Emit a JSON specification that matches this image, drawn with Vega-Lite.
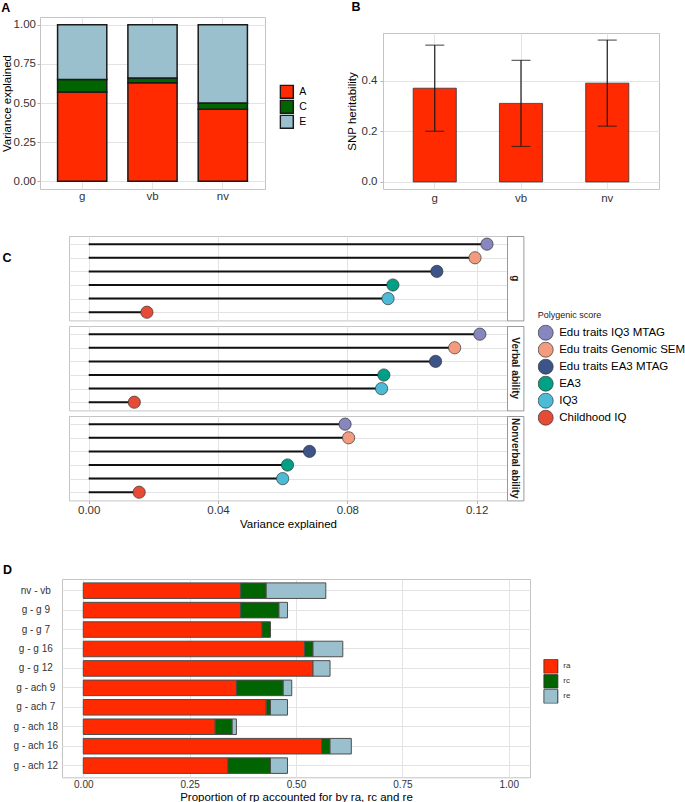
{
  "$schema": "https://vega.github.io/schema/vega-lite/v6.json",
  "padding": {"left": 0, "top": 0, "right": 0, "bottom": 0},
  "background": "white",
  "bounds": "flush",
  "spacing": 0,
  "resolve": {"scale": {"fill": "independent"}},
  "vconcat": [
    {
      "hconcat": [
        {
          "width": 225, "height": 172,
          "title": {"text": "A", "dx": -38.8},
          "data": {"values": [
            {"cat": "g", "comp": "A", "val": 0.57, "ord": 1},
            {"cat": "g", "comp": "C", "val": 0.08, "ord": 2},
            {"cat": "g", "comp": "E", "val": 0.35, "ord": 3},
            {"cat": "vb", "comp": "A", "val": 0.63, "ord": 1},
            {"cat": "vb", "comp": "C", "val": 0.03, "ord": 2},
            {"cat": "vb", "comp": "E", "val": 0.34, "ord": 3},
            {"cat": "nv", "comp": "A", "val": 0.46, "ord": 1},
            {"cat": "nv", "comp": "C", "val": 0.04, "ord": 2},
            {"cat": "nv", "comp": "E", "val": 0.50, "ord": 3}
          ]},
          "mark": {"type": "bar", "stroke": "#1a1a1a", "strokeWidth": 1.5},
          "encoding": {
            "x": {"field": "cat", "type": "nominal", "sort": ["g", "vb", "nv"],
                  "scale": {"paddingInner": 0.3, "paddingOuter": 0.25},
                  "axis": {"title": null, "labelAngle": 0, "grid": true, "ticks": false, "tickSize": 0, "labelPadding": 1}},
            "y": {"field": "val", "type": "quantitative", "stack": "zero",
                  "scale": {"domain": [-0.05, 1.05], "nice": false, "zero": false},
                  "axis": {"values": [0, 0.25, 0.5, 0.75, 1], "format": ".2f", "title": "Variance explained", "titlePadding": 1}},
            "fill": {"field": "comp", "type": "nominal",
                     "scale": {"domain": ["A", "C", "E"], "range": ["#FF2A00", "#006400", "#9AC0CD"]},
                     "legend": {"orient": "none", "legendX": 239.3, "legendY": 67.5, "title": null, "symbolType": "square", "symbolSize": 169, "symbolStrokeColor": "#1a1a1a", "symbolStrokeWidth": 1.5, "labelFontSize": 10.5, "labelOffset": 5, "rowPadding": 0, "clipHeight": 14.5}},
            "order": {"field": "ord", "type": "quantitative"}
          }
        },
        {"width": 118, "height": 1, "data": {"values": []}, "mark": "point", "view": {"stroke": null}},
        {
          "vconcat": [
            {"width": 1, "height": 16, "data": {"values": []}, "mark": "point", "view": {"stroke": null}},
            {
              "width": 276, "height": 156,
              "title": {"text": "B", "dx": -31.5, "offset": 19.5},
              "data": {"values": [
                {"cat": "g", "h2": 0.37, "lo": 0.20, "hi": 0.54},
                {"cat": "vb", "h2": 0.31, "lo": 0.14, "hi": 0.48},
                {"cat": "nv", "h2": 0.39, "lo": 0.22, "hi": 0.56}
              ]},
              "encoding": {
                "x": {"field": "cat", "type": "nominal", "sort": ["g", "vb", "nv"],
                      "scale": {"paddingInner": 0.5, "paddingOuter": 0.35},
                      "axis": {"title": null, "labelAngle": 0, "grid": true, "ticks": false, "tickSize": 0, "labelPadding": 3}}
              },
              "layer": [
                {"mark": {"type": "bar", "fill": "#FF2A00", "stroke": "#333333", "strokeWidth": 0.8},
                 "encoding": {"y": {"field": "h2", "type": "quantitative",
                                    "scale": {"domain": [-0.028, 0.588], "nice": false, "zero": false},
                                    "axis": {"values": [0, 0.2, 0.4], "format": ".1f", "title": "SNP heritability", "titlePadding": 3.5, "labelPadding": 3}}}},
                {"mark": {"type": "rule", "color": "#1a1a1a", "strokeWidth": 1.2},
                 "encoding": {"y": {"field": "lo", "type": "quantitative"}, "y2": {"field": "hi"}}},
                {"mark": {"type": "tick", "color": "#1a1a1a", "thickness": 1.2, "size": 19, "orient": "horizontal"},
                 "encoding": {"y": {"field": "lo", "type": "quantitative"}}},
                {"mark": {"type": "tick", "color": "#1a1a1a", "thickness": 1.2, "size": 19, "orient": "horizontal"},
                 "encoding": {"y": {"field": "hi", "type": "quantitative"}}}
              ]
            }
          ],
          "spacing": 0,
          "bounds": "flush"
        }
      ],
      "spacing": 0,
      "bounds": "flush",
      "resolve": {"scale": {"fill": "independent"}}
    },
    {"width": 1, "height": 218.3, "data": {"values": []}, "mark": "point", "view": {"stroke": null}},
    {
      "concat": [
        {"width": 29, "height": 1, "data": {"values": []}, "mark": "point", "view": {"stroke": null}},
        {
          "width": 438, "height": 84.4,
          "title": {"text": "C", "dx": -66.5, "dy": 31.2},
          "data": {"values": [
            {"pgs": "Edu traits IQ3 MTAG", "ve": 0.1232},
            {"pgs": "Edu traits Genomic SEM", "ve": 0.1195},
            {"pgs": "Edu traits EA3 MTAG", "ve": 0.1077},
            {"pgs": "EA3", "ve": 0.0941},
            {"pgs": "IQ3", "ve": 0.0926},
            {"pgs": "Childhood IQ", "ve": 0.0180}
          ]},
          "encoding": {
            "y": {"field": "pgs", "type": "nominal",
                  "sort": ["Edu traits IQ3 MTAG", "Edu traits Genomic SEM", "Edu traits EA3 MTAG", "EA3", "IQ3", "Childhood IQ"],
                  "scale": {"type": "point", "padding": 0.6},
                  "axis": {"title": null, "labels": false, "ticks": false, "tickSize": 0, "grid": true}}
          },
          "layer": [
            {"mark": {"type": "rule", "color": "#111111", "strokeWidth": 2},
             "encoding": {"x": {"field": "ve", "type": "quantitative",
                                "scale": {"domain": [-0.0061, 0.1294], "nice": false, "zero": false},
                                "axis": {"values": [0, 0.04, 0.08, 0.12], "labels": false, "ticks": false, "tickSize": 0, "title": null, "grid": true}},
                          "x2": {"datum": 0}}},
            {"mark": {"type": "circle", "size": 150, "opacity": 1, "stroke": "#333333", "strokeWidth": 0.7},
             "encoding": {"x": {"field": "ve", "type": "quantitative"},
                          "fill": {"field": "pgs", "type": "nominal",
                                   "scale": {"domain": ["Edu traits IQ3 MTAG", "Edu traits Genomic SEM", "Edu traits EA3 MTAG", "EA3", "IQ3", "Childhood IQ"],
                                             "range": ["#8886BE", "#F39B7F", "#3C5488", "#00A087", "#4DBBD5", "#E64B35"]},
                                   "legend": {"orient": "none", "legendX": 497.7, "legendY": 74.8, "title": "Polygenic score", "titleFontSize": 9, "titleFontWeight": "normal", "titleColor": "#222222", "titlePadding": 4.7, "labelFontSize": 11.5, "labelColor": "#000000", "symbolType": "circle", "symbolSize": 225, "symbolOpacity": 1, "symbolStrokeColor": "#333333", "symbolStrokeWidth": 0.7, "rowPadding": 0, "clipHeight": 16.4, "labelOffset": 5.5}}}}
          ]
        },
        {"width": 16.4, "height": 84.4, "data": {"values": [{"lab": "g"}]},
         "mark": {"type": "text", "angle": 90, "fontWeight": "bold", "fontSize": 10, "color": "#1a1a1a"},
         "encoding": {"text": {"field": "lab", "type": "nominal"}}, "view": {"stroke": "#999999"}},

        {"width": 29, "height": 1, "data": {"values": []}, "mark": "point", "view": {"stroke": null}},
        {
          "width": 438, "height": 84.4,
          "data": {"values": [
            {"pgs": "Edu traits IQ3 MTAG", "ve": 0.1210},
            {"pgs": "Edu traits Genomic SEM", "ve": 0.1132},
            {"pgs": "Edu traits EA3 MTAG", "ve": 0.1073},
            {"pgs": "EA3", "ve": 0.0913},
            {"pgs": "IQ3", "ve": 0.0906},
            {"pgs": "Childhood IQ", "ve": 0.0141}
          ]},
          "encoding": {
            "y": {"field": "pgs", "type": "nominal",
                  "sort": ["Edu traits IQ3 MTAG", "Edu traits Genomic SEM", "Edu traits EA3 MTAG", "EA3", "IQ3", "Childhood IQ"],
                  "scale": {"type": "point", "padding": 0.6},
                  "axis": {"title": null, "labels": false, "ticks": false, "tickSize": 0, "grid": true}}
          },
          "layer": [
            {"mark": {"type": "rule", "color": "#111111", "strokeWidth": 2},
             "encoding": {"x": {"field": "ve", "type": "quantitative",
                                "scale": {"domain": [-0.0061, 0.1294], "nice": false, "zero": false},
                                "axis": {"values": [0, 0.04, 0.08, 0.12], "labels": false, "ticks": false, "tickSize": 0, "title": null, "grid": true}},
                          "x2": {"datum": 0}}},
            {"mark": {"type": "circle", "size": 150, "opacity": 1, "stroke": "#333333", "strokeWidth": 0.7},
             "encoding": {"x": {"field": "ve", "type": "quantitative"},
                          "fill": {"field": "pgs", "type": "nominal",
                                   "scale": {"domain": ["Edu traits IQ3 MTAG", "Edu traits Genomic SEM", "Edu traits EA3 MTAG", "EA3", "IQ3", "Childhood IQ"],
                                             "range": ["#8886BE", "#F39B7F", "#3C5488", "#00A087", "#4DBBD5", "#E64B35"]},
                                   "legend": {"orient": "none", "legendX": 497.7, "legendY": 74.8, "title": "Polygenic score", "titleFontSize": 9, "titleFontWeight": "normal", "titleColor": "#222222", "titlePadding": 4.7, "labelFontSize": 11.5, "labelColor": "#000000", "symbolType": "circle", "symbolSize": 225, "symbolOpacity": 1, "symbolStrokeColor": "#333333", "symbolStrokeWidth": 0.7, "rowPadding": 0, "clipHeight": 16.4, "labelOffset": 5.5}}}}
          ]
        },
        {"width": 16.4, "height": 84.4, "data": {"values": [{"lab": "Verbal ability"}]},
         "mark": {"type": "text", "angle": 90, "fontWeight": "bold", "fontSize": 10, "color": "#1a1a1a"},
         "encoding": {"text": {"field": "lab", "type": "nominal"}}, "view": {"stroke": "#999999"}},

        {"width": 29, "height": 1, "data": {"values": []}, "mark": "point", "view": {"stroke": null}},
        {
          "width": 438, "height": 84.4,
          "data": {"values": [
            {"pgs": "Edu traits IQ3 MTAG", "ve": 0.0793},
            {"pgs": "Edu traits Genomic SEM", "ve": 0.0804},
            {"pgs": "Edu traits EA3 MTAG", "ve": 0.0683},
            {"pgs": "EA3", "ve": 0.0615},
            {"pgs": "IQ3", "ve": 0.0600},
            {"pgs": "Childhood IQ", "ve": 0.0156}
          ]},
          "encoding": {
            "y": {"field": "pgs", "type": "nominal",
                  "sort": ["Edu traits IQ3 MTAG", "Edu traits Genomic SEM", "Edu traits EA3 MTAG", "EA3", "IQ3", "Childhood IQ"],
                  "scale": {"type": "point", "padding": 0.6},
                  "axis": {"title": null, "labels": false, "ticks": false, "tickSize": 0, "grid": true}}
          },
          "layer": [
            {"mark": {"type": "rule", "color": "#111111", "strokeWidth": 2},
             "encoding": {"x": {"field": "ve", "type": "quantitative",
                                "scale": {"domain": [-0.0061, 0.1294], "nice": false, "zero": false},
                                "axis": {"values": [0, 0.04, 0.08, 0.12], "format": ".2f", "title": "Variance explained", "grid": true, "tickSize": 3, "labelPadding": 1, "titlePadding": 2.5}},
                          "x2": {"datum": 0}}},
            {"mark": {"type": "circle", "size": 150, "opacity": 1, "stroke": "#333333", "strokeWidth": 0.7},
             "encoding": {"x": {"field": "ve", "type": "quantitative"},
                          "fill": {"field": "pgs", "type": "nominal",
                                   "scale": {"domain": ["Edu traits IQ3 MTAG", "Edu traits Genomic SEM", "Edu traits EA3 MTAG", "EA3", "IQ3", "Childhood IQ"],
                                             "range": ["#8886BE", "#F39B7F", "#3C5488", "#00A087", "#4DBBD5", "#E64B35"]},
                                   "legend": {"orient": "none", "legendX": 497.7, "legendY": 74.8, "title": "Polygenic score", "titleFontSize": 9, "titleFontWeight": "normal", "titleColor": "#222222", "titlePadding": 4.7, "labelFontSize": 11.5, "labelColor": "#000000", "symbolType": "circle", "symbolSize": 225, "symbolOpacity": 1, "symbolStrokeColor": "#333333", "symbolStrokeWidth": 0.7, "rowPadding": 0, "clipHeight": 16.4, "labelOffset": 5.5}}}}
          ]
        },
        {"width": 16.4, "height": 84.4, "data": {"values": [{"lab": "Nonverbal ability"}]},
         "mark": {"type": "text", "angle": 90, "fontWeight": "bold", "fontSize": 10, "color": "#1a1a1a"},
         "encoding": {"text": {"field": "lab", "type": "nominal"}}, "view": {"stroke": "#999999"}}
      ],
      "columns": 3,
      "align": "each",
      "spacing": {"row": 5, "column": 0},
      "bounds": "flush"
    },
    {"width": 1, "height": 342.4, "data": {"values": []}, "mark": "point", "view": {"stroke": null}},
    {
      "hconcat": [
        {"width": 22, "height": 1, "data": {"values": []}, "mark": "point", "view": {"stroke": null}},
        {
          "width": 468, "height": 198.3,
          "title": {"text": "D", "dx": -59, "dy": 0.8},
          "data": {"values": [
            {"pair": "nv - vb", "comp": "ra", "prop": 0.37, "ord": 1},
            {"pair": "nv - vb", "comp": "rc", "prop": 0.06, "ord": 2},
            {"pair": "nv - vb", "comp": "re", "prop": 0.14, "ord": 3},
            {"pair": "g - g 9", "comp": "ra", "prop": 0.37, "ord": 1},
            {"pair": "g - g 9", "comp": "rc", "prop": 0.09, "ord": 2},
            {"pair": "g - g 9", "comp": "re", "prop": 0.02, "ord": 3},
            {"pair": "g - g 7", "comp": "ra", "prop": 0.42, "ord": 1},
            {"pair": "g - g 7", "comp": "rc", "prop": 0.02, "ord": 2},
            {"pair": "g - g 16", "comp": "ra", "prop": 0.52, "ord": 1},
            {"pair": "g - g 16", "comp": "rc", "prop": 0.02, "ord": 2},
            {"pair": "g - g 16", "comp": "re", "prop": 0.07, "ord": 3},
            {"pair": "g - g 12", "comp": "ra", "prop": 0.54, "ord": 1},
            {"pair": "g - g 12", "comp": "re", "prop": 0.04, "ord": 3},
            {"pair": "g - ach 9", "comp": "ra", "prop": 0.36, "ord": 1},
            {"pair": "g - ach 9", "comp": "rc", "prop": 0.11, "ord": 2},
            {"pair": "g - ach 9", "comp": "re", "prop": 0.02, "ord": 3},
            {"pair": "g - ach 7", "comp": "ra", "prop": 0.43, "ord": 1},
            {"pair": "g - ach 7", "comp": "rc", "prop": 0.01, "ord": 2},
            {"pair": "g - ach 7", "comp": "re", "prop": 0.04, "ord": 3},
            {"pair": "g - ach 18", "comp": "ra", "prop": 0.31, "ord": 1},
            {"pair": "g - ach 18", "comp": "rc", "prop": 0.04, "ord": 2},
            {"pair": "g - ach 18", "comp": "re", "prop": 0.01, "ord": 3},
            {"pair": "g - ach 16", "comp": "ra", "prop": 0.56, "ord": 1},
            {"pair": "g - ach 16", "comp": "rc", "prop": 0.02, "ord": 2},
            {"pair": "g - ach 16", "comp": "re", "prop": 0.05, "ord": 3},
            {"pair": "g - ach 12", "comp": "ra", "prop": 0.34, "ord": 1},
            {"pair": "g - ach 12", "comp": "rc", "prop": 0.10, "ord": 2},
            {"pair": "g - ach 12", "comp": "re", "prop": 0.04, "ord": 3}
          ]},
          "mark": {"type": "bar", "stroke": "#4d4d4d", "strokeWidth": 1},
          "encoding": {
            "y": {"field": "pair", "type": "nominal",
                  "sort": ["nv - vb", "g - g 9", "g - g 7", "g - g 16", "g - g 12", "g - ach 9", "g - ach 7", "g - ach 18", "g - ach 16", "g - ach 12"],
                  "scale": {"paddingInner": 0.2, "paddingOuter": 0.2},
                  "axis": {"title": null, "ticks": false, "tickSize": 0, "labelAlign": "center", "labelPadding": 26.7, "labelFontSize": 10, "grid": true}},
            "x": {"field": "prop", "type": "quantitative", "stack": "zero",
                  "scale": {"domain": [-0.05, 1.05], "nice": false, "zero": false},
                  "axis": {"values": [0, 0.25, 0.5, 0.75, 1], "format": ".2f", "title": "Proportion of rp accounted for by ra, rc and re", "labelFontSize": 10, "ticks": false, "tickSize": 0, "labelPadding": 2.6, "titlePadding": 1.6}},
            "fill": {"field": "comp", "type": "nominal",
                     "scale": {"domain": ["ra", "rc", "re"], "range": ["#FF2A00", "#006400", "#9AC0CD"]},
                     "legend": {"orient": "none", "legendX": 481.3, "legendY": 80.2, "title": null, "symbolType": "square", "symbolSize": 196, "symbolStrokeColor": "#333333", "symbolStrokeWidth": 1, "labelFontSize": 8, "labelColor": "#333333", "labelOffset": 5, "rowPadding": 0, "clipHeight": 14.3}},
            "order": {"field": "ord", "type": "quantitative"}
          }
        }
      ],
      "spacing": 0,
      "bounds": "flush",
      "resolve": {"scale": {"fill": "independent"}}
    }
  ],
  "config": {
    "font": "Liberation Sans",
    "view": {"stroke": "#c4c4c4"},
    "axis": {"gridColor": "#e3e3e3", "gridWidth": 1, "domain": false, "tickColor": "#b3b3b3", "tickSize": 3, "labelColor": "#333333", "labelFontSize": 11.5, "titleFontSize": 11.5, "titleFontWeight": "normal", "titleColor": "#000000", "labelPadding": 1.5},
    "title": {"fontSize": 12.5, "fontWeight": "bold", "color": "#000000", "anchor": "start", "frame": "group", "offset": 3},
    "legend": {"padding": 0, "labelColor": "#000000"}
  }
}
